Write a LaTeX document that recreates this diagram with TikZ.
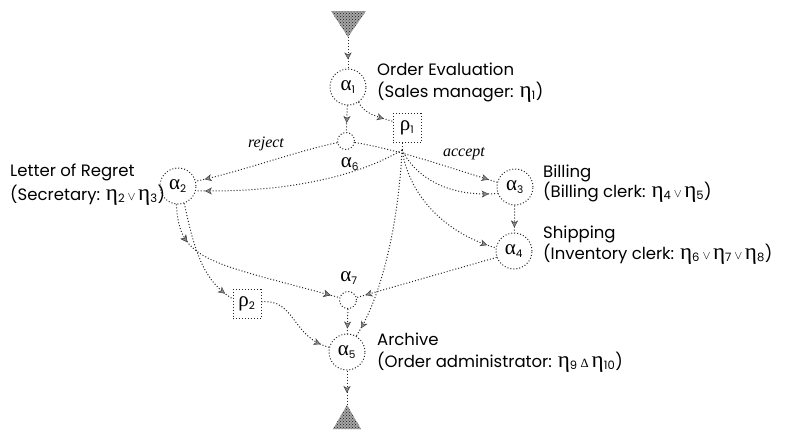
\documentclass[tikz,border=0pt]{standalone}
\usepackage{fontspec}
\setmainfont{Poppins}
\newfontfamily\gk{Liberation Serif}[Scale=1.4]
\newfontfamily\cnd{Liberation Serif}
\usetikzlibrary{arrows.meta,decorations.markings,patterns}

% Greek symbol with a subscript index
\newcommand\gsub[2]{{\gk #1}\textsubscript{#2}}
% the same, inside a line of text (tall serif glyph kept out of the line box)
\newcommand\gtxt[2]{\smash{{\gk #1}}\textsubscript{#2}}
\newcommand\orop{\hspace{2.5pt}{\fontsize{13}{13}\selectfont$\vee$}\hspace{2.5pt}}
\newcommand\andop{\hspace{3pt}{\gk\fontsize{9}{9}\selectfont Δ}\hspace{3pt}}

\tikzset{
  dotline/.style={draw=black!85, line width=1pt, dash pattern=on 1pt off 2pt},
  conn/.style={dotline},
  >={Stealth[length=7pt,width=7pt,inset=2pt,fill=black!45,line width=0.5pt]},
  arr/.style={postaction={decorate},
    decoration={markings, mark=at position #1 with {\arrow[draw=black!75]{>}}}},
  arr/.default=-9pt,
  actnode/.style={circle, dotline, minimum size=36pt, inner sep=0pt,
    font=\fontsize{15}{15}\selectfont},
  connnode/.style={circle, dotline, minimum size=17pt, inner sep=0pt},
  rolebox/.style={rectangle, dotline, minimum width=28pt, minimum height=29pt,
    inner sep=0pt, font=\fontsize{15}{15}\selectfont},
  lbl/.style={anchor=base west, inner sep=0pt, font=\fontsize{16.5}{16.5}\selectfont},
  cond/.style={inner sep=0pt, font=\cnd\itshape\fontsize{16}{16}\selectfont},
  idx/.style={inner sep=0pt, font=\fontsize{15}{15}\selectfont},
  endpoint/.style={fill=black!35, postaction={pattern=crosshatch dots, pattern color=black!90}}
}

\begin{document}
\begin{tikzpicture}[x=1pt,y=-1pt]
\useasboundingbox (0,0) rectangle (786,429);

% start and end markers
\path[endpoint] (331,11) -- (366,11) -- (348,37) -- cycle;
\coordinate (src) at (348,37);
\path[endpoint] (333,429) -- (361,429) -- (347,405) -- cycle;
\coordinate (snk) at (347,405);

% activities
\node[actnode] (a1) at (348,87) {\gsub{α}{1}};
\node[actnode] (a2) at (178,186) {\gsub{α}{2}};
\node[actnode] (a3) at (515,187) {\gsub{α}{3}};
\node[actnode] (a4) at (514,251) {\gsub{α}{4}};
\node[actnode] (a5) at (347,352) {\gsub{α}{5}};

% split / join connectors
\node[connnode] (a6) at (346,141) {};
\node[idx] (a6l) at (350,164) {\gsub{α}{6}};
\node[connnode] (a7) at (348,300) {};
\node[idx] (a7l) at (349,278) {\gsub{α}{7}};

% rules
\node[rolebox] (r1) at (407,128) {\gsub{ρ}{1}};
\node[rolebox] (r2) at (247,304) {\gsub{ρ}{2}};
\coordinate (j1) at (402,150);

% labels
\node[lbl] (t1) at (377,75) {Order Evaluation};
\node[lbl] (t1b) at (377,97) {(Sales manager: \gtxt{η}{1})};
\node[lbl] (t2) at (10,176) {Letter of Regret};
\node[lbl] (t2b) at (10,200) {(Secretary: \gtxt{η}{2}\orop\gtxt{η}{3})};
\node[lbl] (t3) at (543,177) {Billing};
\node[lbl] (t3b) at (543,197) {(Billing clerk: \gtxt{η}{4}\orop\gtxt{η}{5})};
\node[lbl] (t4) at (543,238) {Shipping};
\node[lbl] (t4b) at (543,259) {(Inventory clerk: \gtxt{η}{6}\orop\gtxt{η}{7}\orop\gtxt{η}{8})};
\node[lbl] (t5) at (377,345) {Archive};
\node[lbl] (t5b) at (377,367) {(Order administrator: \gtxt{η}{9}\andop\gtxt{η}{10})};
\node[cond] (rej) at (266,144) {reject};
\node[cond] (acc) at (464,154) {accept};

% control flow
\draw[conn,arr] (src) -- (a1);
\draw[conn,arr] (a1) -- (a6);
\draw[conn,arr] (a1.-55) .. controls (364,114) and (378,117) .. (r1.155);
\draw[conn,arr] (a6) .. controls (300,150) and (240,172) .. (a2.15);
\draw[conn,arr] (a6) .. controls (400,150) and (450,168) .. (a3.165);
\draw[conn] (r1.south -| j1) -- (j1);
\draw[conn,arr] (j1) .. controls (360,175) and (290,193) .. (a2.-15);
\draw[conn,arr] (j1) .. controls (420,185) and (460,197) .. (a3.-160);
\draw[conn,arr] (j1) .. controls (410,200) and (450,235) .. (a4.170);
\draw[conn,arr] (j1) .. controls (398,230) and (380,300) .. (a5.60);
\draw[conn,arr=-5pt] (a3) -- (a4);
\draw[conn,arr] (a4.-160) -- (a7);
\draw[conn,arr=40pt,arr] (a2.-95) .. controls (179,262) and (210,262) .. (a7);
\draw[conn,arr] (a2.-70) .. controls (195,255) and (205,282) .. (r2.160);
\draw[conn,arr] (r2.8) .. controls (295,298) and (292,338) .. (a5.165);
\draw[conn,arr=-5pt] (a7) -- (a5);
\draw[conn,arr=-12pt] (a5) -- (snk);
\end{tikzpicture}
\end{document}
